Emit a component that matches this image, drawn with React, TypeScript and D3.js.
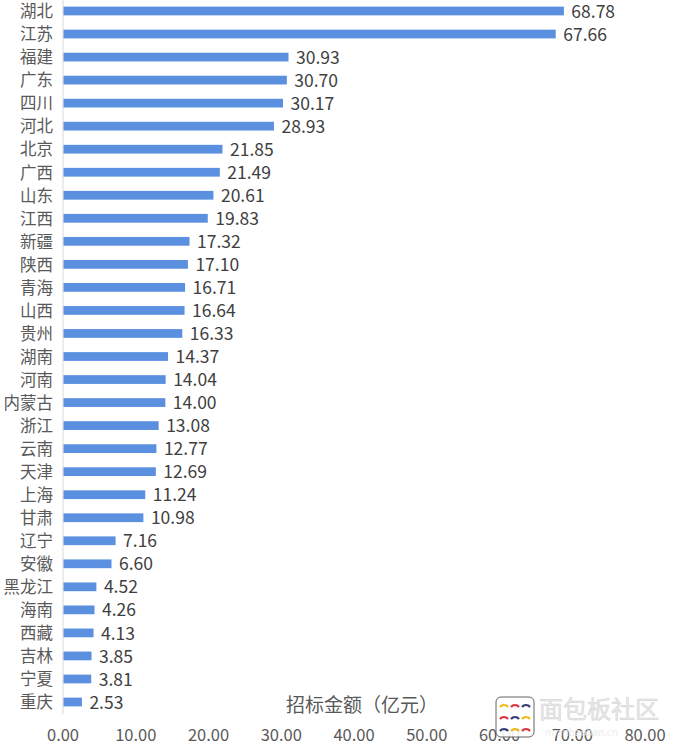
import React from "react";
import * as d3 from "d3";

const categories = ["湖北","江苏","福建","广东","四川","河北","北京","广西","山东","江西","新疆","陕西","青海","山西","贵州","湖南","河南","内蒙古","浙江","云南","天津","上海","甘肃","辽宁","安徽","黑龙江","海南","西藏","吉林","宁夏","重庆"];
const values = [68.78,67.66,30.93,30.70,30.17,28.93,21.85,21.49,20.61,19.83,17.32,17.10,16.71,16.64,16.33,14.37,14.04,14.00,13.08,12.77,12.69,11.24,10.98,7.16,6.60,4.52,4.26,4.13,3.85,3.81,2.53];
const xTicks = [0,10,20,30,40,50,60,70,80];
const axisTitle = "招标金额（亿元）";

export default function App() {
  const W = 673, H = 748;
  const x = d3.scaleLinear().domain([0, 80]).range([63, 645]);
  const n = categories.length;
  const top = 11, bottom = 702;
  const step = (bottom - top) / (n - 1);
  const y = d3.scaleBand<string>().domain(categories)
    .range([top - step / 2, top - step / 2 + step * n])
    .paddingInner(0.62).paddingOuter(0.31);
  const font = "'Noto Sans CJK SC', 'Microsoft YaHei', sans-serif";
  const color = "#5B8FDF";
  const text = "#595959";
  return (
    <svg width={W} height={H} style={{ position: "absolute", left: 0, top: 0, background: "#fff" }} fontFamily={font}>
      <line x1={x(0)} x2={x(0)} y1={0} y2={714} stroke="#d9d9d9" strokeWidth={1} />
      {categories.map((c, i) => {
        const yy = y(c)!;
        const bw = y.bandwidth();
        const v = values[i];
        return (
          <g key={c}>
            <rect x={x(0) + 0.5} y={yy} width={x(v) - x(0)} height={bw} fill={color} />
            <text x={53} y={yy + bw / 2 + 0.5} dy="0.35em" textAnchor="end" fontSize={16.5} fill={text}>{c}</text>
            <text x={x(v) + 8} y={yy + bw / 2 + 0.5} dy="0.35em" fontSize={17.5} fill="#404040">{v.toFixed(2)}</text>
          </g>
        );
      })}
      {xTicks.map(t => (
        <text key={t} x={x(t)} y={735} dy="0.35em" textAnchor="middle" fontSize={16.5} fill={text}>{t.toFixed(2)}</text>
      ))}
      <text x={362} y={705} dy="0.35em" textAnchor="middle" fontSize={19} fill={text}>{axisTitle}</text>
      <g opacity={0.9}>
        <rect x={496} y={697} width={38} height={40} rx={5} fill="#fff" stroke="#555" strokeWidth={1} />
        {[0,1,2].map(r => [0,1,2].map(cI => {
          const cols = ["#f0b400", "#d81e2c", "#1d2a6b"];
          const cx = 504 + cI * 11, cy = 704 + r * 12;
          return <path key={r + "-" + cI} d={`M ${cx - 4} ${cy + 3} A 5 5 0 0 1 ${cx + 4} ${cy + 3}`} fill="none" stroke={cols[(r + cI) % 3]} strokeWidth={2.2} />;
        }))}
        <text x={539} y={710} dy="0.35em" fontSize={24} fill="#e6e6e6" stroke="#d0d0d0" strokeWidth={0.5}>面包板社区</text>
        <text x={545} y={732} dy="0.35em" fontSize={10} fill="#ececec">mianbaoban.cn</text>
      </g>
    </svg>
  );
}
